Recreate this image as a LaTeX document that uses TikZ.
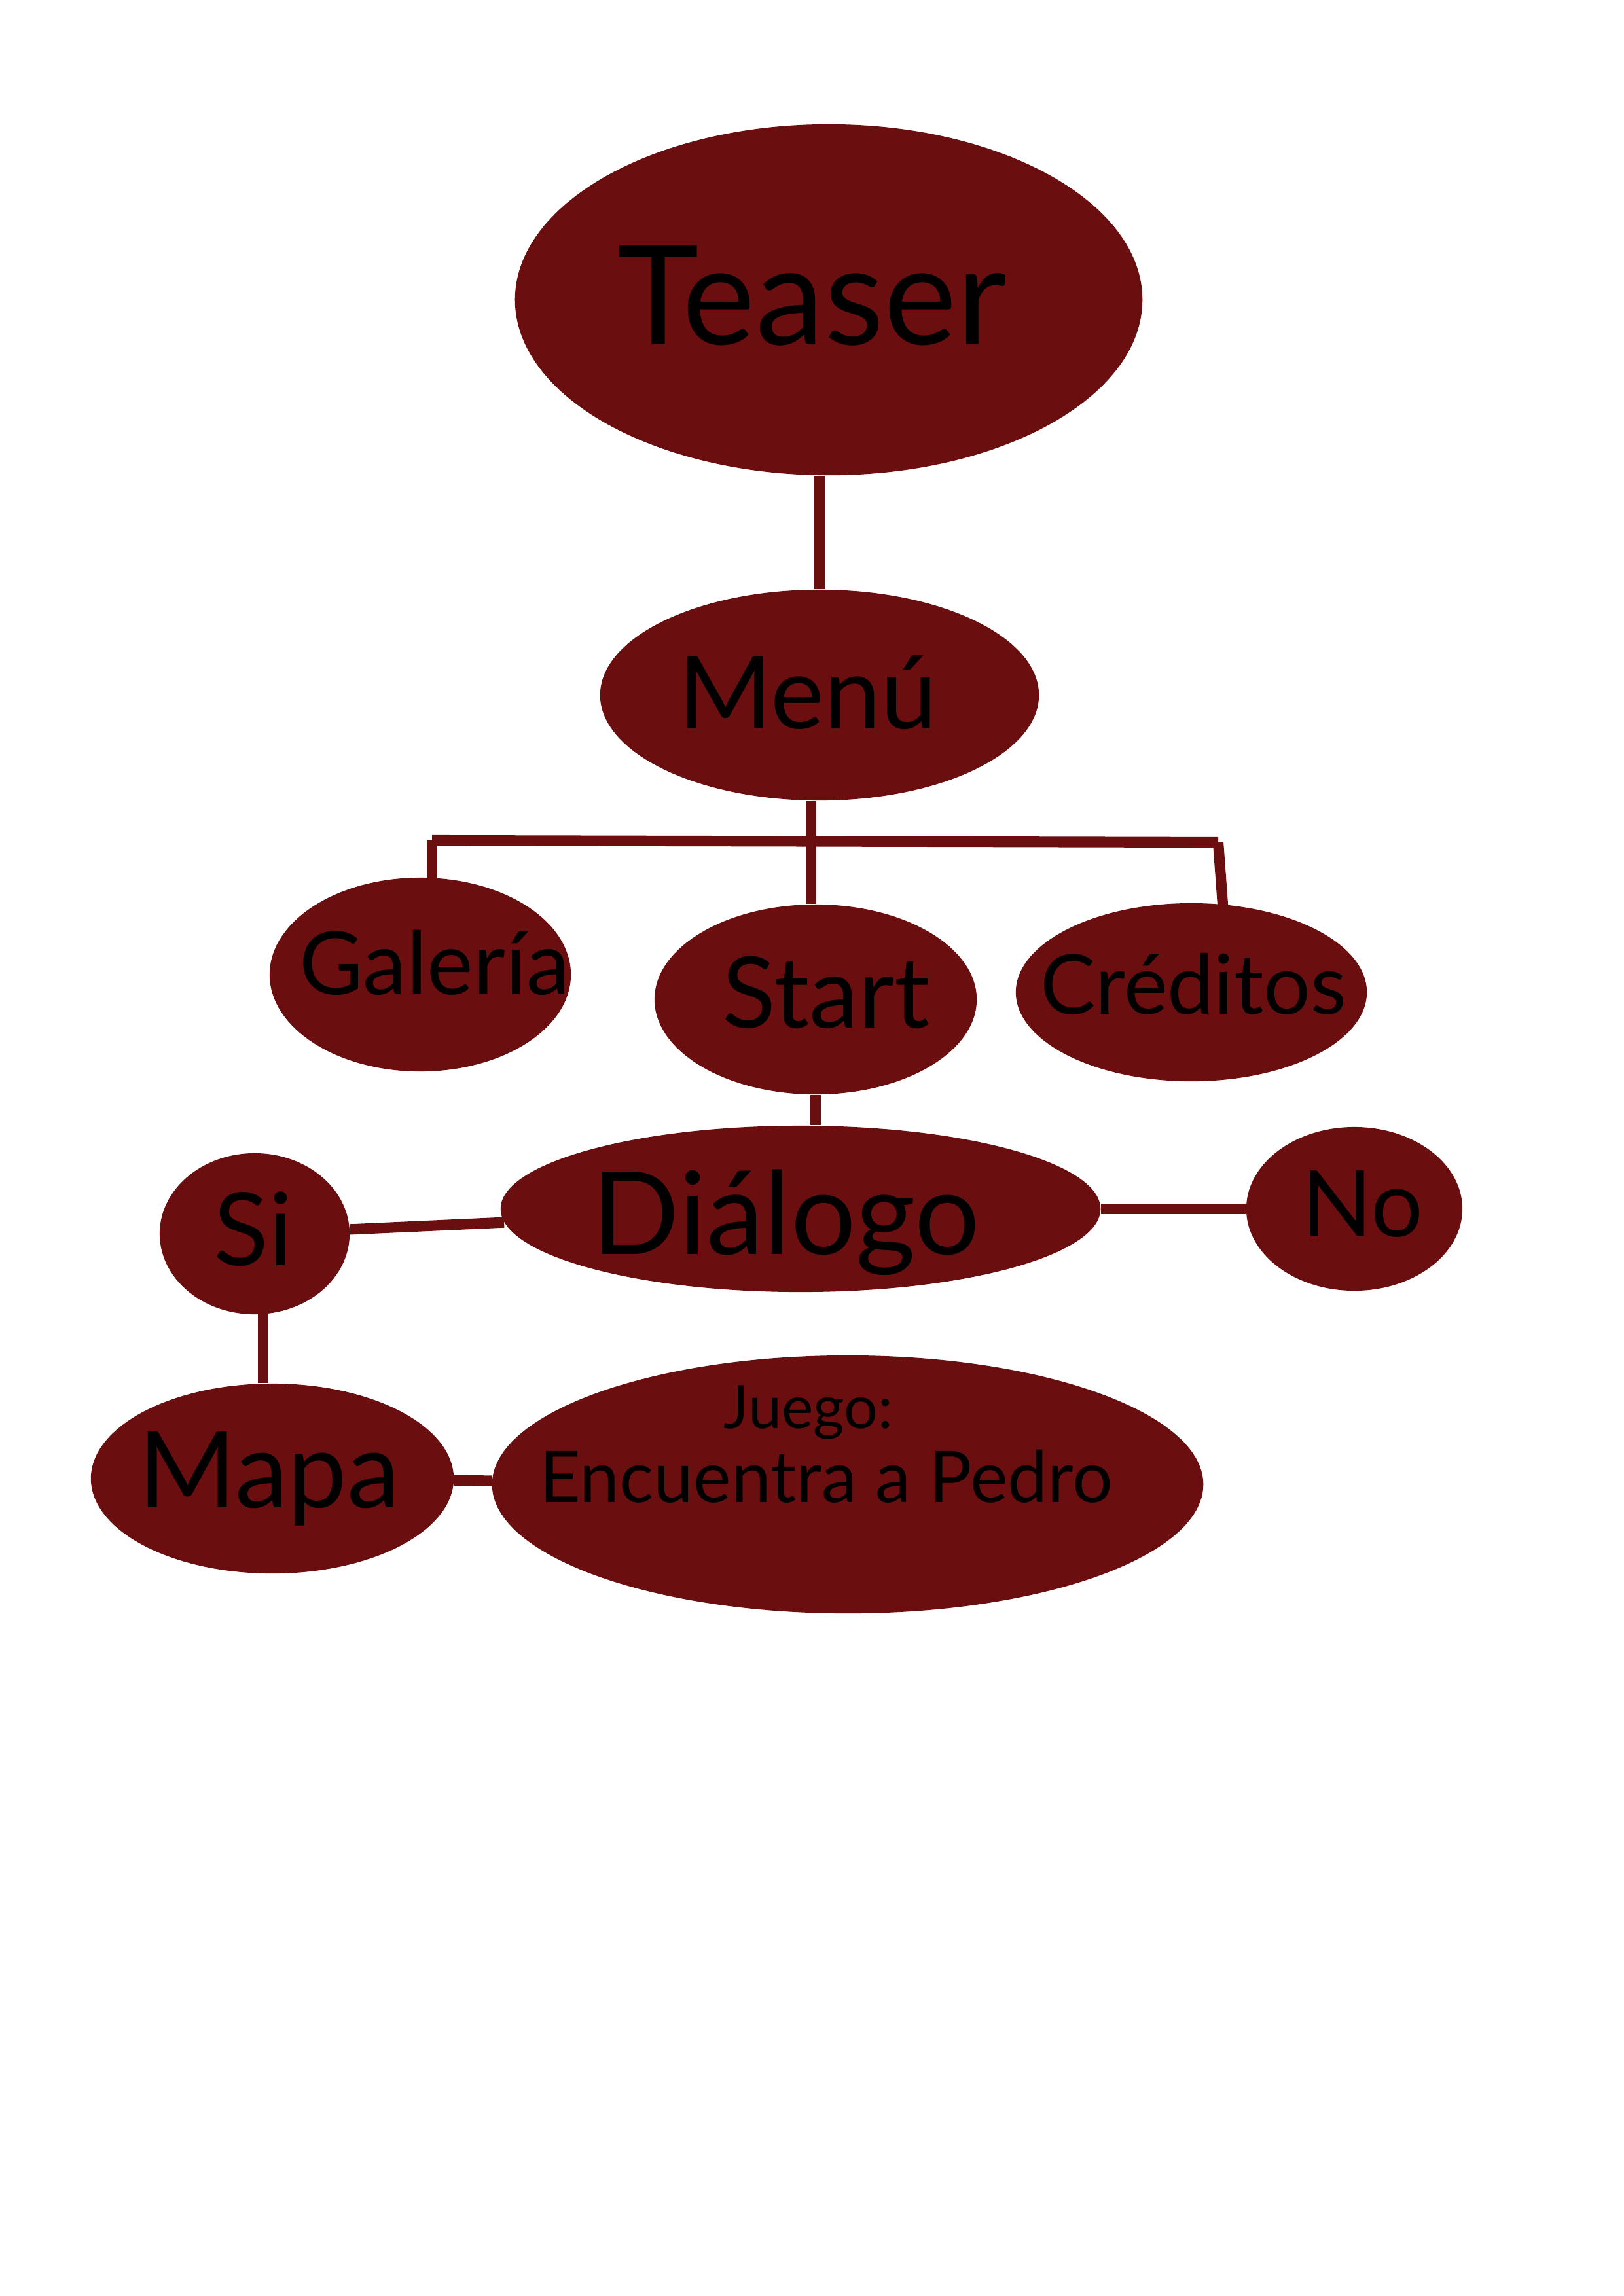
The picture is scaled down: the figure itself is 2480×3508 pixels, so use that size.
\documentclass[tikz,border=0pt]{standalone}
\usepackage{fontspec}
\setmainfont{Lato}
\usetikzlibrary{shapes.geometric,backgrounds}
\definecolor{vino}{HTML}{6A0E0F}
\newcommand{\tam}[1]{\fontsize{#1}{1.15\dimexpr #1\relax}\selectfont}
\tikzset{
  burbuja/.style={ellipse, fill=vino, inner sep=0pt},
  rotulo/.style={inner sep=0pt, text=black},
  enlace/.style={draw=vino, line width=4.6pt, line cap=butt}
}
\begin{document}
\begin{tikzpicture}[x=0.01cm, y=-0.01cm, line join=round]
\useasboundingbox (0,0) rectangle (2480,3508);
% Nivel 1: teaser y menu
\node[burbuja, minimum width=9.58cm, minimum height=5.36cm] (teaser) at (1266,458) {};
\node[rotulo, font=\tam{60pt}] (teasertxt) at (1241,452) {Teaser};
\node[burbuja, minimum width=6.70cm, minimum height=3.22cm] (menu) at (1252,1062) {};
\node[rotulo, font=\tam{44pt}] (menutxt) at (1234,1058) {Menú};

% Nivel 2: opciones del menu
\node[burbuja, minimum width=4.60cm, minimum height=2.96cm] (galeria) at (642,1489) {};
\node[rotulo, font=\tam{38pt}] (galeriatxt) at (664,1471) {Galería};
\node[burbuja, minimum width=4.92cm, minimum height=2.90cm] (start) at (1246,1527) {};
\node[rotulo, font=\tam{43pt}] (starttxt) at (1262,1516) {Start};
\node[burbuja, minimum width=5.36cm, minimum height=2.72cm] (creditos) at (1820,1516) {};
\node[rotulo, font=\tam{36pt}] (creditostxt) at (1823,1503) {Créditos};

% Nivel 3: dialogo y respuestas
\node[burbuja, minimum width=9.16cm, minimum height=2.54cm] (dialogo) at (1223,1847) {};
\node[rotulo, font=\tam{50pt}] (dialogotxt) at (1201,1868) {Diálogo};
\node[burbuja, minimum width=2.90cm, minimum height=2.46cm] (si) at (389,1885) {};
\node[rotulo, font=\tam{44pt}] (sitxt) at (387,1878) {Si};
\node[burbuja, minimum width=3.30cm, minimum height=2.50cm] (no) at (2069,1847) {};
\node[rotulo, font=\tam{40pt}] (notxt) at (2082,1840) {No};

% Nivel 4: mapa y juego
\node[burbuja, minimum width=5.54cm, minimum height=2.90cm] (mapa) at (416,2259) {};
\node[rotulo, font=\tam{46pt}] (mapatxt) at (411,2259) {Mapa};
\node[burbuja, minimum width=10.86cm, minimum height=3.94cm] (juego) at (1295,2268) {};
\node[rotulo, font=\tam{26pt}] (juegotit) at (1235,2158) {Juego:};
\node[rotulo, font=\tam{31pt}] (juegotxt) at (1262,2256) {Encuentra a Pedro};

% conectores, por debajo de las burbujas
\coordinate (barraL) at (660,1284);
\coordinate (barraM) at (1239,1285);
\coordinate (barraR) at (1861,1287);
\begin{scope}[on background layer]
\draw[enlace] (menu.north) -- (menu.north |- teaser.south);
\draw[enlace] (barraM |- menu.south) -- (barraM);
\draw[enlace] (barraL) -- (barraR);
\draw[enlace] (barraL) -- ([yshift=-0.3cm]barraL |- galeria.north);
\draw[enlace] (barraM) -- (barraM |- start.north);
\draw[enlace] (barraR) -- ([xshift=0.09cm,yshift=-0.3cm]barraR |- creditos.north);
\draw[enlace] (start.south) -- (start.south |- dialogo.north);
\draw[enlace] (si) -- (dialogo);
\draw[enlace] (dialogo) -- (no);
\draw[enlace] ([xshift=0.13cm]si.center) -- ([xshift=0.13cm]si.center |- mapa.north);
\draw[enlace] (mapa) -- (juego);
\end{scope}
\end{tikzpicture}
\end{document}
